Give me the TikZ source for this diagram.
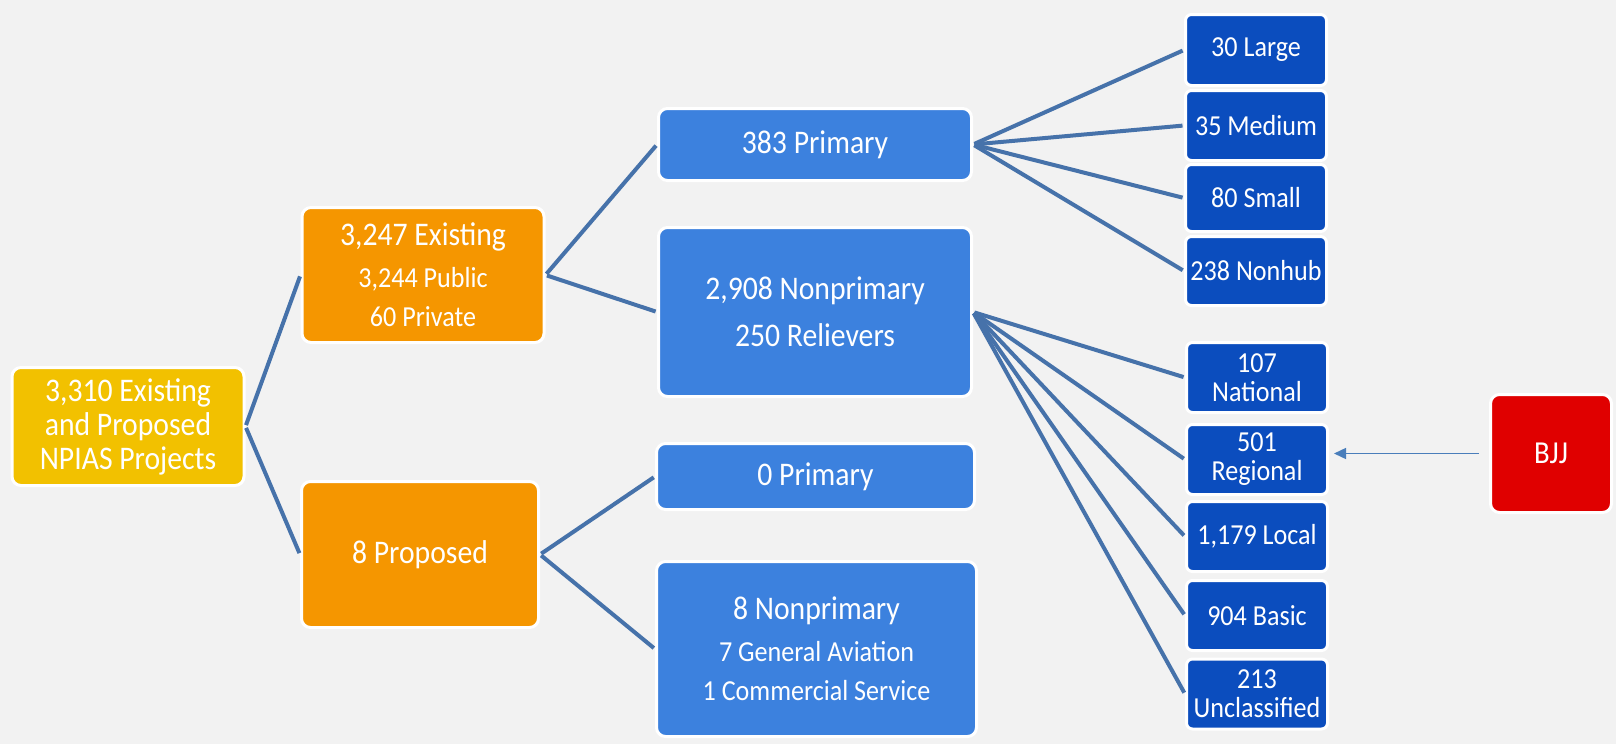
\documentclass[tikz,border=0pt]{standalone}
\usepackage{fontspec}
\setmainfont{Carlito}[FakeStretch=0.9]
\usepackage{xcolor}
\usetikzlibrary{arrows.meta}
\definecolor{pagebg}{HTML}{F2F2F2}
\definecolor{rootyellow}{HTML}{F2C100}
\definecolor{splitorange}{HTML}{F59600}
\definecolor{roleblue}{HTML}{3C81DE}
\definecolor{classblue}{HTML}{0B4DBE}
\definecolor{markred}{HTML}{E00000}
\definecolor{linkblue}{HTML}{4672AA}
\definecolor{pointerblue}{HTML}{4A7EBB}
\newcommand{\subtxt}{\fontsize{29}{40}\selectfont}
\tikzstyle{npbox} = [draw=white,line width=3pt,rectangle,rounded corners=9pt,
  text=white,inner sep=0pt,align=center]
\tikzstyle{rootbox} = [npbox,fill=rootyellow,font=\fontsize{33}{34}\selectfont]
\tikzstyle{splitbox} = [npbox,fill=splitorange,font=\fontsize{33}{43}\selectfont]
\tikzstyle{rolebox} = [npbox,fill=roleblue,font=\fontsize{33}{43}\selectfont]
\tikzstyle{classbox} = [npbox,fill=classblue,rounded corners=6pt,minimum width=141pt,
  minimum height=70pt,font=\fontsize{29}{29}\selectfont]
\tikzstyle{markbox} = [npbox,fill=markred,font=\fontsize{32}{34}\selectfont]
\tikzstyle{link} = [draw=linkblue,line width=4pt,shorten <=1.5pt,shorten >=1.5pt]
\tikzstyle{pointer} = [draw=pointerblue,line width=1.5pt,shorten <=10pt,shorten >=5pt,
  -{Triangle[length=12pt,width=11pt]}]

\begin{document}
\begin{tikzpicture}[x=1pt,y=-1pt]
    \fill [pagebg] (0,0) rectangle (1616,744);
    % root and its two groups
    \node [rootbox,minimum width=232pt,minimum height=118pt] (root) at (128,426.5) {%
      3,310 Existing\\and Proposed\\NPIAS Projects};
    \node [splitbox,minimum width=242pt,minimum height=135pt] (existing) at (423,275) {%
      3,247 Existing\\[-1pt]{\subtxt 3,244 Public}\\[-4pt]{\subtxt 60 Private}};
    \node [splitbox,minimum width=237pt,minimum height=146pt] (proposed) at (420,554.5) {%
      8 Proposed};
    % roles
    \node [rolebox,minimum width=313pt,minimum height=72pt] (primA) at (815,144.5) {%
      383 Primary};
    \node [rolebox,minimum width=313pt,minimum height=169pt] (nonpA) at (815,312) {%
      2,908 Nonprimary\\[4pt]250 Relievers};
    \node [rolebox,minimum width=318pt,minimum height=66pt] (primB) at (815.5,476.5) {%
      0 Primary};
    \node [rolebox,minimum width=320pt,minimum height=175pt] (nonpB) at (816.5,649) {%
      8 Nonprimary\\[-1pt]{\subtxt 7 General Aviation}\\[-4pt]{\subtxt 1 Commercial Service}};
    % hub sizes
    \node [classbox,minimum height=71pt] (large) at (1256,50) {30 Large};
    \node [classbox] (medium) at (1256,125.5) {35 Medium};
    \node [classbox,minimum height=67pt] (small) at (1256,198) {80 Small};
    \node [classbox,minimum height=69pt] (nonhub) at (1256,271) {238 Nonhub};
    % nonprimary categories
    \node [classbox] (national) at (1257,377.5) {107\\National};
    \node [classbox] (regional) at (1257,459.5) {501\\Regional};
    \node [classbox] (local) at (1257,536.5) {1,179 Local};
    \node [classbox] (basic) at (1257,615.5) {904 Basic};
    \node [classbox] (unclass) at (1257,694) {213\\Unclassified};
    \node [markbox,minimum width=121pt,minimum height=118pt] (bjj) at (1551,453.5) {BJJ};
    % connectors
    \foreach \kid in {existing,proposed}
      \draw [link] (root.east) -- (\kid.west);
    \foreach \kid in {primA,nonpA}
      \draw [link] (existing.east) -- (\kid.west);
    \foreach \kid in {primB,nonpB}
      \draw [link] (proposed.east) -- (\kid.west);
    \foreach \kid in {large,medium,small,nonhub}
      \draw [link] (primA.east) -- (\kid.west);
    \foreach \kid in {national,regional,local,basic,unclass}
      \draw [link] (nonpA.east) -- (\kid.west);
    \draw [pointer] (bjj.west) -- (bjj.west -| regional.east);
\end{tikzpicture}
\end{document}
